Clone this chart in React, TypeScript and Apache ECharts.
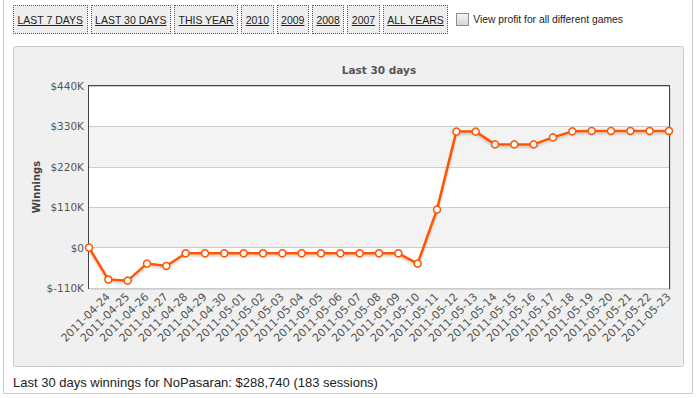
import React, { useEffect, useRef } from "react";
import * as echarts from "echarts";

const buttonLabels = ["LAST 7 DAYS", "LAST 30 DAYS", "THIS YEAR", "2010", "2009", "2008", "2007", "ALL YEARS"];
const checkboxLabel = "View profit for all different games";
const chartTitle = "Last 30 days";
const yAxisName = "Winnings";
const footerText = "Last 30 days winnings for NoPasaran: $288,740 (183 sessions)";

const categories = [
  "",
  "2011-04-24", "2011-04-25", "2011-04-26", "2011-04-27", "2011-04-28", "2011-04-29", "2011-04-30",
  "2011-05-01", "2011-05-02", "2011-05-03", "2011-05-04", "2011-05-05", "2011-05-06", "2011-05-07",
  "2011-05-08", "2011-05-09", "2011-05-10", "2011-05-11", "2011-05-12", "2011-05-13", "2011-05-14",
  "2011-05-15", "2011-05-16", "2011-05-17", "2011-05-18", "2011-05-19", "2011-05-20", "2011-05-21",
  "2011-05-22", "2011-05-23",
];

const winnings = [
  0,
  -87000, -90000, -43500, -50000, -15500, -15500, -15500,
  -15500, -15500, -15500, -15500, -15500, -15500, -15500,
  -15500, -15500, -43500, 103500, 315800, 315800, 281000,
  281000, 281000, 300000, 316600, 317500, 317500, 317500,
  317500, 317500,
];

const yMin = -110000;
const yMax = 440000;
const yStep = 110000;

function fmtMoney(v: number): string {
  if (v === 0) return "$0";
  return "$" + v / 1000 + "K";
}

export default function App() {
  const ref = useRef<HTMLDivElement>(null);

  useEffect(() => {
    if (!ref.current) return;
    const chart = echarts.init(ref.current, undefined, { renderer: "svg" });
    const labelFont = "DejaVu Sans, Verdana, sans-serif";
    chart.setOption({
      animation: false,
      graphic: [
        {
          type: "rect",
          z: -20,
          shape: { x: 3.5, y: -5, width: 689, height: 398.5 },
          style: { fill: "#ffffff", stroke: "#cccccc", lineWidth: 1 },
        },
        {
          type: "rect",
          z: -10,
          shape: { x: 13.5, y: 46.5, width: 670, height: 320, r: 2 },
          style: { fill: "#f0f0f0", stroke: "#c8c8c8", lineWidth: 1 },
        },
        {
          type: "rect",
          z: -5,
          shape: { x: 90, y: 88, width: 581, height: 202 },
          style: { fill: "#d8d8d8" },
        },
        {
          type: "text",
          x: 379,
          y: 69.5,
          style: {
            text: chartTitle,
            fill: "#555555",
            font: "bold 10.5px " + labelFont,
            align: "center",
            verticalAlign: "middle",
          },
        },
        {
          type: "text",
          x: 36,
          y: 187,
          rotation: Math.PI / 2,
          style: {
            text: yAxisName,
            fill: "#444444",
            font: "bold 10px " + labelFont,
            align: "center",
            verticalAlign: "middle",
          },
        },
        {
          type: "text",
          x: 13,
          y: 382,
          style: {
            text: footerText,
            fill: "#222222",
            font: "13px Liberation Sans, Arial, sans-serif",
            align: "left",
            verticalAlign: "middle",
          },
        },
      ],
      grid: {
        left: 89,
        top: 86,
        width: 580,
        height: 202,
        show: true,
        backgroundColor: "#ffffff",
        borderColor: "#444444",
        borderWidth: 2,
        containLabel: false,
      },
      xAxis: {
        type: "category",
        data: categories,
        boundaryGap: false,
        axisLine: { show: false },
        axisTick: { show: false },
        splitLine: { show: false },
        axisLabel: {
          interval: 0,
          rotate: 45,
          margin: 7,
          color: "#555555",
          fontSize: 11,
          fontFamily: labelFont,
        },
      },
      yAxis: {
        type: "value",
        min: yMin,
        max: yMax,
        interval: yStep,
        axisLine: { show: false },
        axisTick: { show: false },
        splitLine: { show: true, lineStyle: { color: "#cccccc", width: 1 } },
        splitArea: { show: true, areaStyle: { color: ["#ffffff", "#f3f3f3"] } },
        axisLabel: {
          margin: 5,
          color: "#555555",
          fontSize: 10.5,
          fontFamily: labelFont,
          formatter: (v: number) => fmtMoney(v),
        },
      },
      series: [
        {
          type: "line",
          data: winnings,
          symbol: "circle",
          symbolSize: 7,
          showSymbol: true,
          lineStyle: {
            color: "#ff5500",
            width: 2.5,
            shadowColor: "rgba(0,0,0,0.18)",
            shadowBlur: 2,
            shadowOffsetY: 2,
          },
          itemStyle: { color: "#ffffff", borderColor: "#ff5500", borderWidth: 1.5 },
          z: 5,
        },
      ],
    });
    return () => chart.dispose();
  }, []);

  const btnFont = "10.5px 'Liberation Sans', Arial, sans-serif";

  return (
    <div style={{ position: "fixed", left: 0, top: 0, width: 700, height: 398, background: "#ffffff", overflow: "hidden" }}>
      <div ref={ref} style={{ position: "absolute", left: 0, top: 0, width: 700, height: 398 }} />
      <div
        style={{
          position: "absolute",
          left: 13,
          top: 5,
          height: 29,
          display: "flex",
          alignItems: "center",
          gap: 3,
        }}
      >
        {buttonLabels.map((b) => (
          <div
            key={b}
            style={{
              height: 27,
              border: "1px dotted #555555",
              background: "#eeeeee",
              padding: "0 3.5px",
              display: "flex",
              alignItems: "center",
              font: btnFont,
              color: "#222222",
              textDecoration: "underline",
              whiteSpace: "nowrap",
            }}
          >
            {b}
          </div>
        ))}
        <div style={{ display: "flex", alignItems: "center", marginLeft: 5 }}>
          <span
            style={{
              display: "inline-block",
              width: 11,
              height: 11,
              border: "1px solid #8e8e8e",
              background: "linear-gradient(#f4f4f4, #d6d6d6)",
              marginRight: 4,
            }}
          />
          <span style={{ font: "10.3px 'Liberation Sans', Arial, sans-serif", color: "#222222", whiteSpace: "nowrap" }}>
            {checkboxLabel}
          </span>
        </div>
      </div>
    </div>
  );
}
